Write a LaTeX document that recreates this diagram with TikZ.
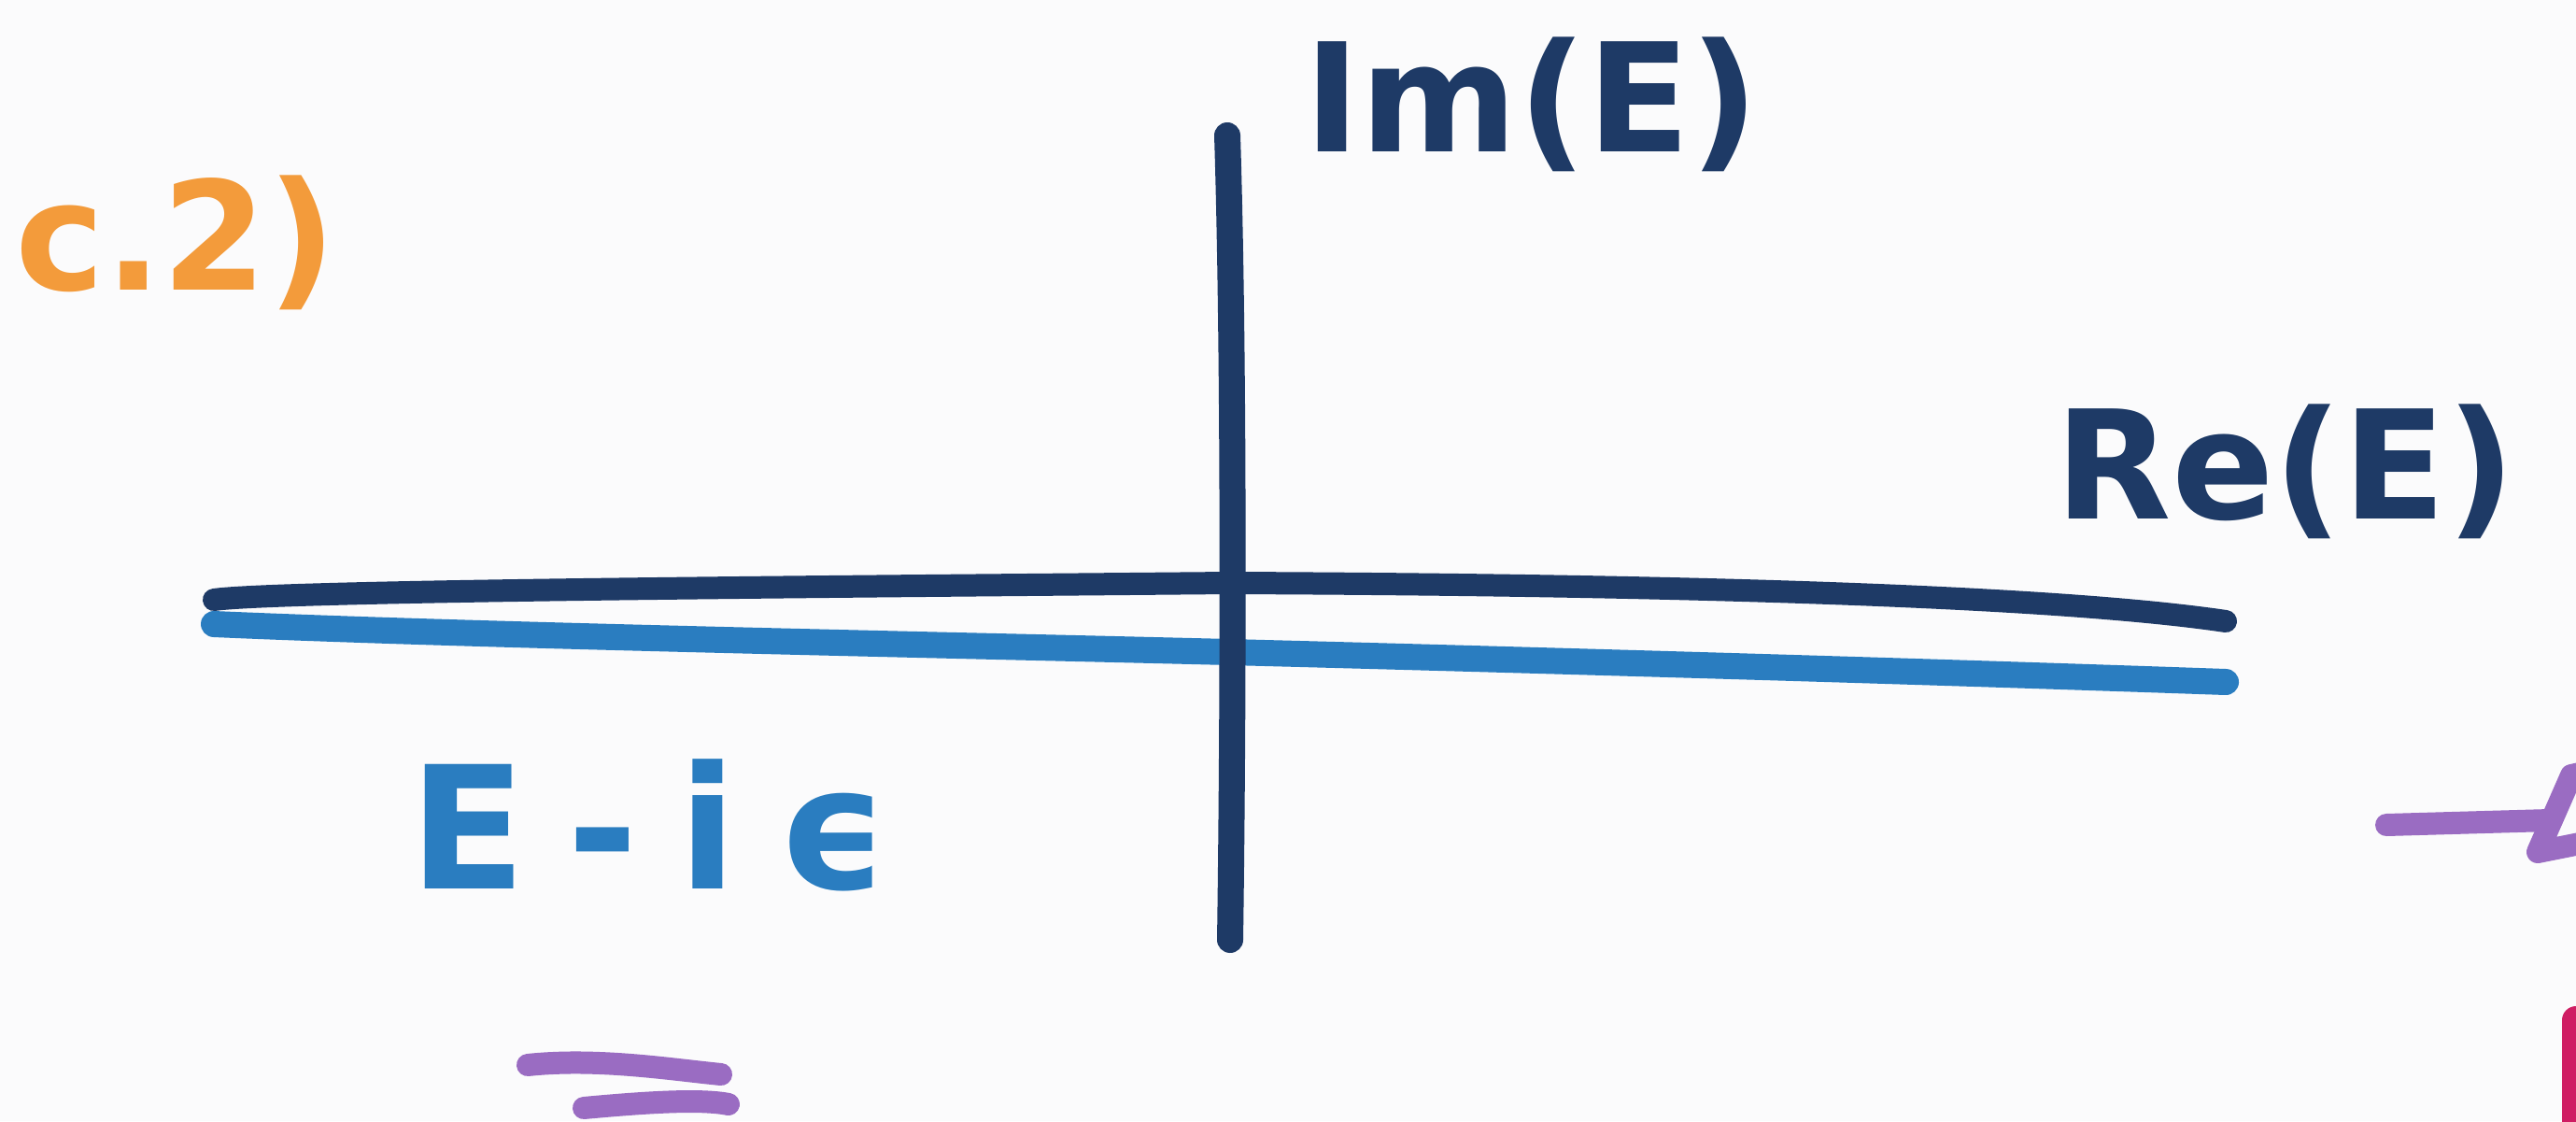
\documentclass[tikz,border=0pt]{standalone}
\usepackage{fontspec}
\setmainfont{DejaVu Sans}
\usepackage{tikz}
\usetikzlibrary{positioning,calc}
\definecolor{navyink}{HTML}{1E3A66}
\definecolor{blueink}{HTML}{2A7DC0}
\definecolor{orangeink}{HTML}{F39B3B}
\definecolor{purpleink}{HTML}{9A6CC2}
\definecolor{pinkink}{HTML}{CF1D63}
\definecolor{paper}{HTML}{FBFBFC}
\tikzset{
  inkline/.style={line width=0.28cm, line cap=round, line join=round},
  handtext/.style={inner sep=0pt, font=\bfseries\fontsize{46}{50}\selectfont},
  axisline/.style={inkline, draw=navyink},
  shiftline/.style={inkline, draw=blueink, line width=0.28cm},
  purplestroke/.style={inkline, draw=purpleink, line width=0.24cm}
}

\begin{document}
\begin{tikzpicture}
  \useasboundingbox[fill=paper] (0,0) rectangle (27.58,12);
  \clip (0,0) rectangle (27.58,12);
  % axes
  \coordinate (imtop) at (13.14,10.55);
  \coordinate (imbot) at (13.17,1.94);
  \coordinate (releft) at (2.29,5.58);
  \coordinate (reright) at (23.83,5.35);
  \coordinate (epsleft) at (2.29,5.32);
  \coordinate (epsright) at (23.83,4.70);
  \draw[axisline, line width=0.24cm] (releft) .. controls (3,5.68) and (9,5.72) .. (13.16,5.76)
    .. controls (18,5.74) and (22,5.62) .. (reright);
  \draw[shiftline] (epsleft) .. controls (5,5.20) and (10,5.10) .. (13.16,5.02)
    .. controls (17,4.92) and (21,4.80) .. (epsright);
  \draw[axisline] (imtop) .. controls (13.22,8) and (13.20,4) .. (imbot);
  % labels
  \node[handtext, text=orangeink] (lblpart) at (1.88,9.40) {c.2)};
  \node[handtext, text=navyink] (lblim) at (16.40,10.88) {Im(E)};
  \node[handtext, text=navyink, anchor=west] (lblre) at (22.00,6.95) {Re(E)};
  \node[handtext, text=blueink, font=\bfseries\fontsize{52}{56}\selectfont\addfontfeature{LetterSpace=24}] (lbleps) at (6.95,3.17) {E-iϵ};
  % cut-off strokes at the edges
  \draw[purplestroke] (5.65,0.60) .. controls (6.4,0.68) and (7.2,0.55) .. (7.72,0.50);
  \draw[purplestroke] (6.25,0.14) .. controls (6.9,0.20) and (7.5,0.24) .. (7.80,0.18);
  \draw[purplestroke] (25.55,3.17) -- (27.30,3.22);
  \draw[purplestroke] (27.62,3.72) -- (27.53,3.70) -- (27.17,2.88) -- (27.62,2.97);
  \draw[inkline, draw=pinkink, line width=0.3cm] (27.58,1.08) -- (27.58,-0.2);
\end{tikzpicture}
\end{document}
